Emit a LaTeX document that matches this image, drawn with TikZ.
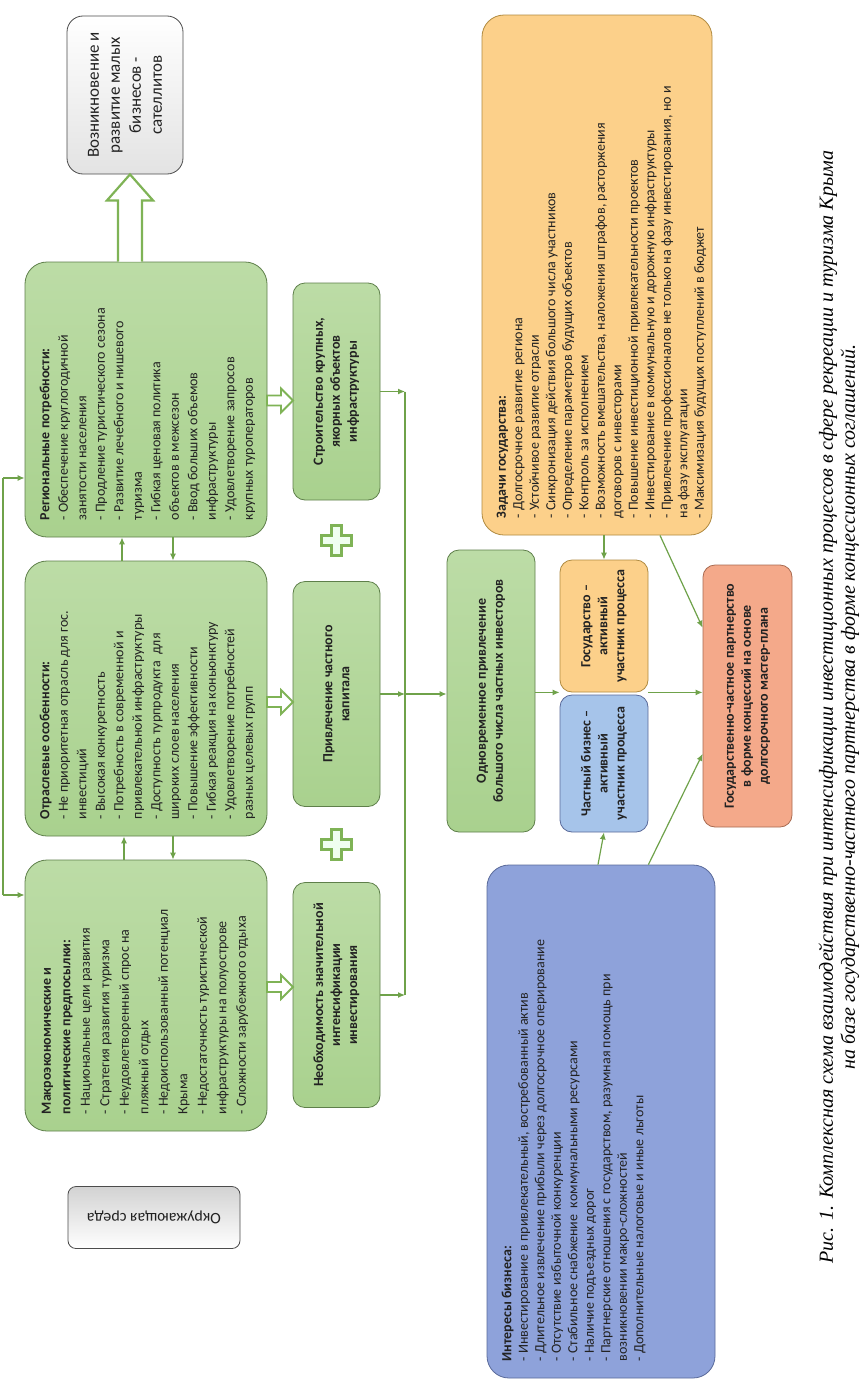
\documentclass[tikz,border=0pt]{standalone}
\usepackage{fontspec}
\setmainfont{Carlito}
\newfontfamily\capfont{Liberation Serif}
\usetikzlibrary{calc,arrows.meta}
\definecolor{gfill}{HTML}{A9D18E}
\definecolor{gfillb}{HTML}{BCDCA6}
\definecolor{gline}{HTML}{5E7F4A}
\definecolor{conn}{HTML}{6FA24A}
\definecolor{blockc}{HTML}{7FB356}
\definecolor{ofill}{HTML}{FCD08A}
\definecolor{oline}{HTML}{B08A40}
\definecolor{bsfill}{HTML}{A6C4EA}
\definecolor{bbfill}{HTML}{8EA2DA}
\definecolor{bline}{HTML}{5A6A9A}
\definecolor{pfill}{HTML}{F4A98A}
\definecolor{pline}{HTML}{A86A50}
\definecolor{txt}{HTML}{222222}
\tikzset{
  base/.style={rotate=90, line width=0.8pt, inner sep=0pt, align=center, text=txt},
  greenbox/.style={base, draw=gline, top color=gfillb, bottom color=gfill},
  bigr/.style={rounded corners=22pt},
  smallr/.style={rounded corners=12pt},
  boldtxt/.style={font=\bfseries\fontsize{14pt}{17pt}\selectfont},
  listtxt/.style={rotate=90, anchor=north west, align=left, inner sep=11pt, text=txt,
     font=\fontsize{14pt}{18.5pt}\selectfont},
  connline/.style={draw=conn, line width=1.2pt},
  connarrow/.style={connline, -{Latex[length=7pt,width=6pt]}},
  blockst/.style={draw=blockc, fill=white, line width=1.8pt, line join=miter},
  plusst/.style={draw=blockc, fill=green!6, line width=2.6pt, line join=miter},
  plusmark/.pic={\draw[plusst] (-5,-15) -- (5,-15) -- (5,-5) -- (15,-5) -- (15,5) -- (5,5) -- (5,15) -- (-5,15) -- (-5,5) -- (-15,5) -- (-15,-5) -- (-5,-5) -- cycle;},
  harrow/.pic={\draw[blockst] (-13,-5) -- (1,-5) -- (1,-12) -- (13,0) -- (1,12) -- (1,5) -- (-13,5) -- cycle;}
}
\begin{document}
\begin{tikzpicture}[x=1pt,y=-1pt]
\useasboundingbox (0,0) rectangle (864,1392);
\fill[white] (0,0) rectangle (864,1392);

% top white box
\node[base, draw=gray!60!black, top color=white, bottom color=gray!22, rounded corners=16pt,
  minimum width=158pt, minimum height=116pt, font=\fontsize{17pt}{21pt}\selectfont]
  (sat) at (125,95) {Возникновение и\\развитие малых\\бизнесов -\\сателлитов};

% big green boxes
\node[greenbox, bigr, minimum width=275pt, minimum height=242pt] (reg) at (146,399.5) {};
\node[greenbox, bigr, minimum width=275pt, minimum height=242pt] (ind) at (146,698.5) {};
\node[greenbox, bigr, minimum width=271pt, minimum height=242pt] (mac) at (146,995.5) {};

\node[listtxt] (regt) at ($(reg.north west)+(4,-6)$) {\textbf{Региональные потребности:}\\
- Обеспечение круглогодичной\\занятости населения\\
- Продление туристического сезона\\
- Развитие лечебного и нишевого\\туризма\\
- Гибкая ценовая политика\\объектов в межсезон\\
- Ввод больших объемов\\инфраструктуры\\
- Удовлетворение запросов\\крупных туроператоров};

\node[listtxt] (indt) at ($(ind.north west)+(4,-6)$) {\textbf{Отраслевые особенности:}\\
- Не приоритетная отрасль для гос.\\инвестиций\\
- Высокая конкуретность\\
- Потребность в современной и\\привлекательной инфраструктуры\\
- Доступность турпродукта \ для\\широких слоев населения\\
- Повышение эффективности\\
- Гибкая реакция на коньюнктуру\\
- Удовлетворение потребностей\\разных целевых групп};

\node[listtxt, font=\fontsize{14pt}{19.5pt}\selectfont] (mact) at ($(mac.north west)+(6,-6)$) {\textbf{Макроэкономические и}\\\textbf{политические предпосылки:}\\
- Национальные цели развития\\
- Стратегия развития туризма\\
- Неудовлетворенный спрос на\\пляжный отдых\\
- Недоиспользованный потенциал\\Крыма\\
- Недостаточность туристической\\инфраструктуры на полуострове\\
- Сложности зарубежного отдыха};

% small green boxes
\node[greenbox, smallr, boldtxt, minimum width=217pt, minimum height=87pt] (strc) at (336.5,391.5)
  {Строительство крупных,\\якорных объектов\\инфраструктуры};
\node[greenbox, smallr, boldtxt, minimum width=225pt, minimum height=87pt] (priv) at (336.5,694)
  {Привлечение частного\\капитала};
\node[greenbox, smallr, boldtxt, minimum width=225pt, minimum height=87pt] (need) at (336.5,995)
  {Необходимость значительной\\интенсификации\\инвестирования};
\node[greenbox, smallr, boldtxt, minimum width=282pt, minimum height=88pt] (odn) at (491,691)
  {Одновременное привлечение\\большого числа частных инвесторов};

% orange big box
\node[base, draw=oline, fill=ofill, bigr, minimum width=520pt, minimum height=230pt] (org) at (597,275) {};
\node[listtxt, font=\fontsize{14pt}{16.5pt}\selectfont] (orgt) at ($(org.north west)+(4,-6)$) {\textbf{Задачи государства:}\\
- Долгосрочное развитие региона\\
- Устойчивое развитие отрасли\\
- Синхронизация действия большого числа участников\\
- Определение параметров будущих объектов\\
- Контроль за исполнением\\
- Возможность вмешательства, наложения штрафов, расторжения\\договоров с инвесторами\\
- Повышение инвестиционной привлекательности проектов\\
- Инвестирование в коммунальную и дорожную инфраструктуры\\
- Привлечение профессионалов не только на фазу инвестирования, но и\\на фазу эксплуатации\\
- Максимизация будущих поступлений в бюджет};

% participants
\node[base, draw=oline, fill=ofill, smallr, boldtxt, minimum width=132pt, minimum height=88pt] (gov) at (604,626)
  {Государство –\\активный\\участник процесса};
\node[base, draw=bline, fill=bsfill, smallr, boldtxt, minimum width=137pt, minimum height=88pt] (bus) at (604,763.5)
  {Частный бизнес –\\активный\\участник процесса};

% pink result box
\node[base, draw=pline, fill=pfill, smallr, boldtxt, minimum width=262pt, minimum height=89pt] (pink) at (747.5,696)
  {Государственно-частное партнерство\\в форме концессий на основе\\долгосрочного мастер-плана};

% blue big box
\node[base, draw=bline, fill=bbfill, bigr, minimum width=513pt, minimum height=228pt] (blue) at (601,1121.5) {};
\node[listtxt, font=\fontsize{14pt}{16.5pt}\selectfont] (bluet) at ($(blue.north west)+(4,-6)$) {\textbf{Интересы бизнеса:}\\
- Инвестирование в привлекательный, востребованный актив\\
- Длительное извлечение прибыли через долгосрочное оперирование\\
- Отсутствие избыточной конкуренции\\
- Стабильное снабжение \ коммунальными ресурсами\\
- Наличие подъездных дорог\\
- Партнерские отношения с государством, разумная помощь при\\возникновении макро-сложностей\\
- Дополнительные налоговые и иные льготы};

% environment box (upside down)
\node[line width=0.8pt, inner sep=0pt, align=center, text=txt, rotate=180, draw=gray!60!black,
  top color=gray!35, bottom color=white, rounded corners=8pt,
  minimum width=172pt, minimum height=62pt, font=\fontsize{16pt}{19pt}\selectfont]
  (env) at (154,1217.5) {Окружающая среда};

% caption
\node[rotate=90, inner sep=0pt, align=center, text=black,
  font=\capfont\itshape\fontsize{20pt}{22pt}\selectfont] (cap) at (839,707)
  {Рис. 1. Комплексная схема взаимодействия при интенсификации инвестиционных процессов в сфере рекреации и туризма Крыма\\
   на базе государственно-частного партнерства в форме концессионных соглашений.};

% block arrows
\pic at ($(reg.south |- strc.south)!0.5!(strc.north)+(0,9)$) {harrow};
\pic at ($(ind.south |- priv.south)!0.5!(priv.north)+(0,8)$) {harrow};
\pic at ($(mac.south |- need.south)!0.5!(need.north)+(0,-8)$) {harrow};
\draw[blockst, line width=2.2pt] ($(sat.west |- reg.east)+(-7,0)$) -- ($(sat.west)+(-7,26)$)
  -- ($(sat.west)+(-18,26)$) -- ($(sat.west)+(5,0)$) -- ($(sat.west)+(28,26)$) -- ($(sat.west)+(17,26)$)
  -- ($(sat.west |- reg.east)+(17,0)$);

% plus signs
\pic at ($(strc.west)!0.5!(priv.east)$) {plusmark};
\pic at ($(priv.west)!0.5!(need.east)$) {plusmark};

% thin connectors
\coordinate (jS) at (405,0 |- strc.south);
\coordinate (jP) at (405,0 |- priv.south);
\coordinate (jN) at (405,0 |- need.south);
\draw[connarrow] (strc.south) -- (jS);
\draw[connarrow] (priv.south) -- (jP);
\draw[connarrow] (need.south) -- (jN);
\draw[connline] (jS) -- (jN);
\draw[connarrow] (jP) -- (odn.north |- jP);
\draw[connarrow] (odn.south |- gov.north west) -- (gov.north west);
\draw[connarrow] (gov.south west) -- (pink.north |- gov.south west);
\draw[connarrow] (gov.east |- org.west) -- (gov.east);
\draw[connarrow] (660,0 |- org.west) -- ($(pink.north east)!0.24!(pink.north west)$);
\draw[connarrow] ($(bus.west |- blue.east)+(-6,0)$) -- (bus.west);
\draw[connarrow] (bus.south |- blue.east) -- ($(pink.north east)!0.72!(pink.north west)$);

% between big boxes
\draw[connarrow] (122,0 |- ind.east) -- (122,0 |- reg.west);
\draw[connarrow] (173,0 |- reg.west) -- (173,0 |- ind.east);
\draw[connarrow] (124,0 |- mac.east) -- (124,0 |- ind.west);
\draw[connarrow] (173,0 |- ind.west) -- (173,0 |- mac.east);

% left feedback line
\coordinate (lT) at (3,478);
\coordinate (lB) at (3,895);
\draw[connline] (lT) -- (lB);
\draw[connarrow] (lT) -- (lT -| reg.north);
\draw[connarrow] (lB) -- (lB -| mac.north);
\end{tikzpicture}
\end{document}
